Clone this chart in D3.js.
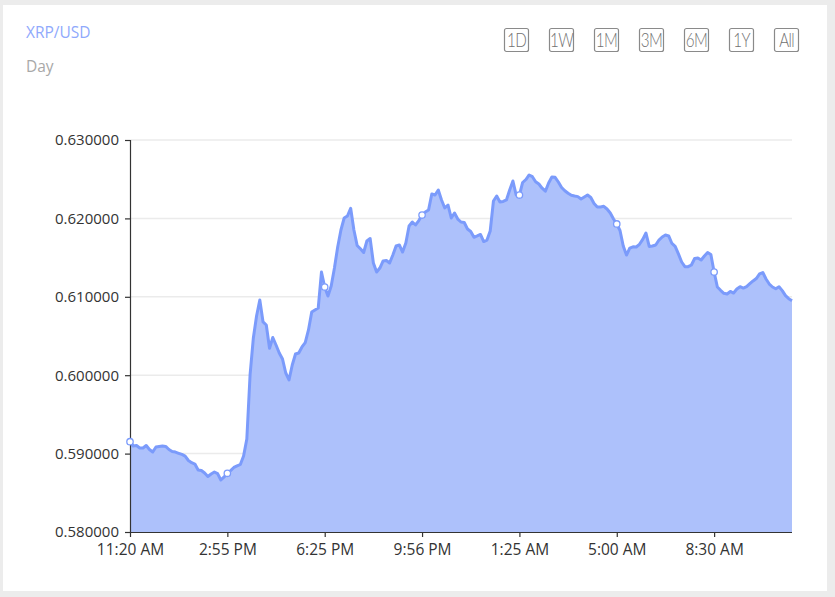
<!DOCTYPE html>
<html>
<head>
<meta charset="utf-8">
<script src="https://cdn.jsdelivr.net/npm/d3@7/dist/d3.min.js"></script>
<style>
  html, body { margin: 0; padding: 0; background: #ececec; }
  svg { display: block; }
</style>
</head>
<body>
<svg id="chart" width="835" height="597"></svg>
<script>
// ---- data ----
const title = "XRP/USD";
const subtitle = "Day";
const rangeButtons = ["1D", "1W", "1M", "3M", "6M", "1Y", "All"];
const xTickLabels = ["11:20 AM", "2:55 PM", "6:25 PM", "9:56 PM", "1:25 AM", "5:00 AM", "8:30 AM"];
const xTickEvery = 30; // one label every 30 points
const yTicks = [0.58, 0.59, 0.60, 0.61, 0.62, 0.63];
const prices = [
  0.59152, 0.59097, 0.59103, 0.59071, 0.59071, 0.59103, 0.59052, 0.59020, 0.59084, 0.59091,
  0.59097, 0.59091, 0.59052, 0.59027, 0.59020, 0.59004, 0.58989, 0.58969, 0.58912, 0.58884,
  0.58867, 0.58791, 0.58785, 0.58753, 0.58708, 0.58740, 0.58765, 0.58744, 0.58663, 0.58702,
  0.58749, 0.58784, 0.58823, 0.58842, 0.58861, 0.58969, 0.59186, 0.60003, 0.60471, 0.60755,
  0.60959, 0.60679, 0.60640, 0.60343, 0.60481, 0.60385, 0.60283, 0.60207, 0.60028, 0.59939,
  0.60130, 0.60270, 0.60283, 0.60360, 0.60417, 0.60577, 0.60806, 0.60832, 0.60857, 0.61316,
  0.61125, 0.61010, 0.61138, 0.61367, 0.61635, 0.61852, 0.62005, 0.62031, 0.62129, 0.61852,
  0.61654, 0.61612, 0.61565, 0.61712, 0.61744, 0.61431, 0.61316, 0.61367, 0.61457, 0.61463,
  0.61431, 0.61533, 0.61648, 0.61661, 0.61571, 0.61686, 0.61903, 0.61954, 0.61916, 0.61973,
  0.62043, 0.62082, 0.62107, 0.62311, 0.62298, 0.62362, 0.62235, 0.62133, 0.62171, 0.62005,
  0.62069, 0.61992, 0.61954, 0.61948, 0.61865, 0.61833, 0.61759, 0.61776, 0.61795, 0.61705,
  0.61724, 0.61839, 0.62222, 0.62286, 0.62209, 0.62216, 0.62235, 0.62362, 0.62477, 0.62298,
  0.62298, 0.62458, 0.62496, 0.62554, 0.62532, 0.62468, 0.62439, 0.62385, 0.62347, 0.62452,
  0.62528, 0.62524, 0.62464, 0.62394, 0.62352, 0.62321, 0.62295, 0.62286, 0.62278, 0.62247,
  0.62273, 0.62298, 0.62267, 0.62190, 0.62145, 0.62145, 0.62154, 0.62120, 0.62069, 0.61992,
  0.61929, 0.61846, 0.61648, 0.61533, 0.61622, 0.61638, 0.61635, 0.61670, 0.61733, 0.61814,
  0.61642, 0.61648, 0.61661, 0.61724, 0.61763, 0.61788, 0.61776, 0.61680, 0.61644, 0.61548,
  0.61444, 0.61384, 0.61384, 0.61406, 0.61489, 0.61495, 0.61469, 0.61520, 0.61565, 0.61540,
  0.61316, 0.61125, 0.61083, 0.61045, 0.61036, 0.61068, 0.61048, 0.61099, 0.61129, 0.61112,
  0.61131, 0.61167, 0.61202, 0.61233, 0.61291, 0.61310, 0.61227, 0.61163, 0.61125, 0.61102,
  0.61128, 0.61079, 0.61015, 0.60976, 0.60950
];

// ---- layout ----
const plot = { left: 130, right: 792, top: 140, bottom: 532 };
const lineColor = "#7b9bfb";
const areaColor = "#adc1fb";
const font = "'Open Sans', 'Noto Sans', sans-serif";

const svg = d3.select("#chart");

// white panel
svg.append("rect")
  .attr("x", 3).attr("y", 5).attr("width", 824).attr("height", 586)
  .attr("fill", "#ffffff");

// titles
svg.append("text").attr("x", 26).attr("y", 38)
  .attr("font-family", font)
  .attr("font-size", 15.5).attr("fill", "#8fa9fc").text(title);
svg.append("text").attr("x", 26).attr("y", 72)
  .attr("font-family", font)
  .attr("font-size", 15.5).attr("fill", "#a8a8a8").text(subtitle);

// range buttons
const btnX = d3.scalePoint().domain(rangeButtons).range([504.5, 774.5]);
const btn = svg.append("g").selectAll("g").data(rangeButtons).join("g")
  .attr("transform", d => `translate(${btnX(d)},28.5)`);
btn.append("rect")
  .attr("width", 24).attr("height", 23).attr("rx", 2)
  .attr("fill", "#fff").attr("stroke", "#8a8a8a").attr("stroke-width", 1.2);
btn.append("text")
  .attr("transform", "translate(12,18.3) scale(0.8,1)")
  .attr("text-anchor", "middle")
  .attr("font-family", "Lato, 'Open Sans', sans-serif").attr("font-weight", 300)
  .attr("font-size", 19).attr("letter-spacing", -0.8)
  .attr("fill", "#707070").text(d => d);

// scales
const x = d3.scaleLinear().domain([0, prices.length - 1]).range([plot.left, plot.right]);
const y = d3.scaleLinear().domain([yTicks[0], yTicks[yTicks.length - 1]]).range([plot.bottom, plot.top]);

// grid lines
svg.append("g").selectAll("line").data(yTicks.slice(1)).join("line")
  .attr("x1", plot.left).attr("x2", plot.right)
  .attr("y1", d => y(d)).attr("y2", d => y(d))
  .attr("stroke", "#ebebeb").attr("stroke-width", 1.5);

// area + line
const area = d3.area().x((d, i) => x(i)).y0(y(yTicks[0])).y1(d => y(d));
const line = d3.line().x((d, i) => x(i)).y(d => y(d));
svg.append("path").datum(prices).attr("d", area).attr("fill", areaColor);
svg.append("path").datum(prices).attr("d", line)
  .attr("fill", "none").attr("stroke", lineColor).attr("stroke-width", 3)
  .attr("stroke-linejoin", "round");

// axes
const tickIdx = xTickLabels.map((_, k) => k * xTickEvery);
const xAxis = d3.axisBottom(x).tickValues(tickIdx)
  .tickFormat((d, k) => xTickLabels[k]).tickSizeOuter(0).tickSize(5).tickPadding(7);
const gx = svg.append("g").attr("transform", `translate(0,${plot.bottom})`).call(xAxis);
const yAxis = d3.axisLeft(y).tickValues(yTicks).tickFormat(d3.format(".6f"))
  .tickSizeOuter(0).tickSize(5).tickPadding(6);
const gy = svg.append("g").attr("transform", `translate(${plot.left},0)`).call(yAxis);
[gx, gy].forEach(g => {
  g.select(".domain").attr("stroke", "#333").attr("stroke-width", 1.2);
  g.selectAll(".tick line").attr("stroke", "#333").attr("stroke-width", 1.2);
  g.selectAll(".tick text").attr("fill", "#333")
    .attr("font-family", font).attr("font-size", 15);
});
gx.selectAll(".tick text").attr("font-size", 15.5);
// x-axis line spans the whole plot width
gx.select(".domain").attr("d", `M${plot.left},0.5H${plot.right}`);

// symbols at labelled points
svg.append("g").selectAll("circle").data(tickIdx).join("circle")
  .attr("cx", d => x(d)).attr("cy", d => y(prices[d])).attr("r", 3.2)
  .attr("fill", "#fff").attr("stroke", lineColor).attr("stroke-width", 1.3);
</script>
</body>
</html>
